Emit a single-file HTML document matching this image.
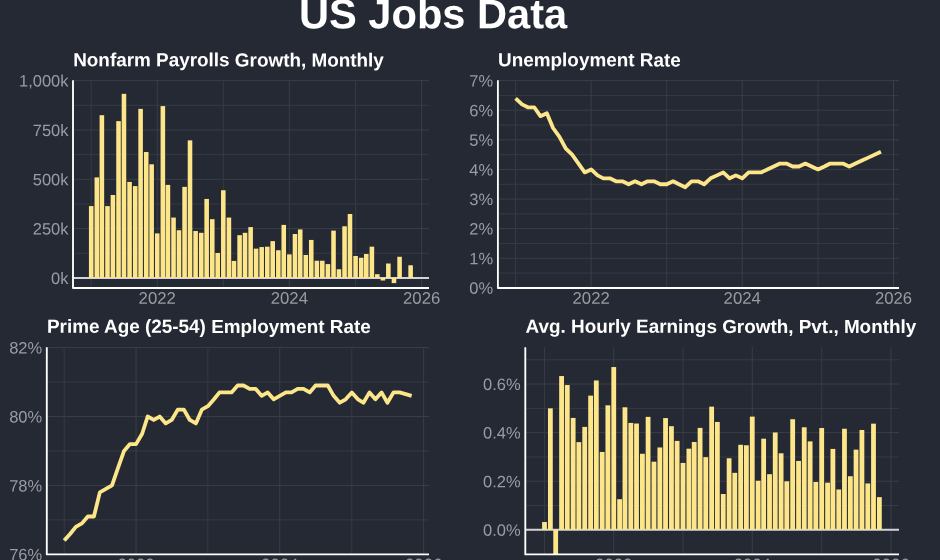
<!DOCTYPE html>
<html><head><meta charset="utf-8"><title>US Jobs Data</title>
<style>
html,body{margin:0;padding:0;background:#252933;overflow:hidden}
svg{display:block;will-change:transform}
text{font-family:"Liberation Sans",sans-serif;text-rendering:geometricPrecision}
.t{font-size:16.5px;fill:#999ca3}
.x{font-size:16.75px}
.h{font-size:18.9px;font-weight:bold;fill:#ffffff}
.m{font-size:41.6px;font-weight:bold;fill:#ffffff}
</style></head><body>
<svg width="940" height="560" viewBox="0 0 940 560">
<rect width="940" height="560" fill="#252933"/>
<text x="299" y="28.2" transform="rotate(0.03 299 28.2)" class="m">US Jobs Data</text>
<g id="p1">
<line x1="73.0" x2="429" y1="253.29" y2="253.29" stroke="#363a45" stroke-width="1"/>
<line x1="73.0" x2="429" y1="203.96" y2="203.96" stroke="#363a45" stroke-width="1"/>
<line x1="73.0" x2="429" y1="154.64" y2="154.64" stroke="#363a45" stroke-width="1"/>
<line x1="73.0" x2="429" y1="105.31" y2="105.31" stroke="#363a45" stroke-width="1"/>
<line x1="73.0" x2="429" y1="277.95" y2="277.95" stroke="#3a3e49" stroke-width="1"/>
<line x1="73.0" x2="429" y1="228.62" y2="228.62" stroke="#3a3e49" stroke-width="1"/>
<line x1="73.0" x2="429" y1="179.30" y2="179.30" stroke="#3a3e49" stroke-width="1"/>
<line x1="73.0" x2="429" y1="129.97" y2="129.97" stroke="#3a3e49" stroke-width="1"/>
<line x1="73.0" x2="429" y1="80.65" y2="80.65" stroke="#3a3e49" stroke-width="1"/>
<line x1="91.20" x2="91.20" y1="80.2" y2="287.95" stroke="#363a45" stroke-width="1"/>
<line x1="157.25" x2="157.25" y1="80.2" y2="287.95" stroke="#3a3e49" stroke-width="1"/>
<line x1="223.31" x2="223.31" y1="80.2" y2="287.95" stroke="#363a45" stroke-width="1"/>
<line x1="289.36" x2="289.36" y1="80.2" y2="287.95" stroke="#3a3e49" stroke-width="1"/>
<line x1="355.60" x2="355.60" y1="80.2" y2="287.95" stroke="#363a45" stroke-width="1"/>
<line x1="421.65" x2="421.65" y1="80.2" y2="287.95" stroke="#3a3e49" stroke-width="1"/>
<line x1="73.0" x2="429" y1="277.95" y2="277.95" stroke="#d2d4d8" stroke-width="2"/>
<rect x="88.92" y="206.08" width="4.56" height="71.87" fill="#fde58a"/>
<rect x="94.53" y="177.37" width="4.56" height="100.58" fill="#fde58a"/>
<rect x="99.60" y="115.20" width="4.56" height="162.75" fill="#fde58a"/>
<rect x="105.21" y="206.08" width="4.56" height="71.87" fill="#fde58a"/>
<rect x="110.64" y="194.99" width="4.56" height="82.96" fill="#fde58a"/>
<rect x="116.25" y="121.14" width="4.56" height="156.81" fill="#fde58a"/>
<rect x="121.68" y="93.82" width="4.56" height="184.13" fill="#fde58a"/>
<rect x="127.29" y="181.92" width="4.56" height="96.03" fill="#fde58a"/>
<rect x="132.90" y="186.08" width="4.56" height="91.87" fill="#fde58a"/>
<rect x="138.33" y="108.87" width="4.56" height="169.08" fill="#fde58a"/>
<rect x="143.94" y="152.03" width="4.56" height="125.92" fill="#fde58a"/>
<rect x="149.36" y="164.30" width="4.56" height="113.65" fill="#fde58a"/>
<rect x="154.97" y="233.40" width="4.56" height="44.55" fill="#fde58a"/>
<rect x="160.58" y="106.09" width="4.56" height="171.86" fill="#fde58a"/>
<rect x="165.65" y="184.89" width="4.56" height="93.06" fill="#fde58a"/>
<rect x="171.26" y="217.56" width="4.56" height="60.39" fill="#fde58a"/>
<rect x="176.69" y="230.23" width="4.56" height="47.72" fill="#fde58a"/>
<rect x="182.30" y="186.87" width="4.56" height="91.08" fill="#fde58a"/>
<rect x="187.73" y="140.35" width="4.56" height="137.60" fill="#fde58a"/>
<rect x="193.34" y="231.03" width="4.56" height="46.92" fill="#fde58a"/>
<rect x="198.95" y="232.81" width="4.56" height="45.14" fill="#fde58a"/>
<rect x="204.38" y="198.95" width="4.56" height="79.00" fill="#fde58a"/>
<rect x="209.99" y="219.15" width="4.56" height="58.80" fill="#fde58a"/>
<rect x="215.42" y="253.00" width="4.56" height="24.95" fill="#fde58a"/>
<rect x="221.03" y="190.24" width="4.56" height="87.71" fill="#fde58a"/>
<rect x="226.64" y="217.56" width="4.56" height="60.39" fill="#fde58a"/>
<rect x="231.71" y="260.92" width="4.56" height="17.03" fill="#fde58a"/>
<rect x="237.32" y="235.18" width="4.56" height="42.77" fill="#fde58a"/>
<rect x="242.75" y="232.81" width="4.56" height="45.14" fill="#fde58a"/>
<rect x="248.36" y="227.07" width="4.56" height="50.88" fill="#fde58a"/>
<rect x="253.79" y="248.65" width="4.56" height="29.30" fill="#fde58a"/>
<rect x="259.40" y="247.06" width="4.56" height="30.89" fill="#fde58a"/>
<rect x="265.01" y="246.67" width="4.56" height="31.28" fill="#fde58a"/>
<rect x="270.43" y="241.12" width="4.56" height="36.83" fill="#fde58a"/>
<rect x="276.04" y="250.23" width="4.56" height="27.72" fill="#fde58a"/>
<rect x="281.47" y="224.89" width="4.56" height="53.06" fill="#fde58a"/>
<rect x="287.08" y="254.39" width="4.56" height="23.56" fill="#fde58a"/>
<rect x="292.69" y="234.00" width="4.56" height="43.95" fill="#fde58a"/>
<rect x="297.94" y="229.44" width="4.56" height="48.51" fill="#fde58a"/>
<rect x="303.55" y="254.98" width="4.56" height="22.97" fill="#fde58a"/>
<rect x="308.98" y="239.94" width="4.56" height="38.01" fill="#fde58a"/>
<rect x="314.59" y="260.72" width="4.56" height="17.23" fill="#fde58a"/>
<rect x="320.02" y="260.72" width="4.56" height="17.23" fill="#fde58a"/>
<rect x="325.63" y="264.09" width="4.56" height="13.86" fill="#fde58a"/>
<rect x="331.24" y="230.63" width="4.56" height="47.32" fill="#fde58a"/>
<rect x="336.67" y="269.24" width="4.56" height="8.71" fill="#fde58a"/>
<rect x="342.28" y="226.27" width="4.56" height="51.68" fill="#fde58a"/>
<rect x="347.71" y="214.00" width="4.56" height="63.95" fill="#fde58a"/>
<rect x="353.32" y="255.97" width="4.56" height="21.98" fill="#fde58a"/>
<rect x="358.93" y="257.75" width="4.56" height="20.20" fill="#fde58a"/>
<rect x="364.00" y="253.99" width="4.56" height="23.96" fill="#fde58a"/>
<rect x="369.61" y="246.67" width="4.56" height="31.28" fill="#fde58a"/>
<rect x="375.04" y="274.19" width="4.56" height="3.76" fill="#fde58a"/>
<rect x="380.65" y="277.95" width="4.56" height="2.57" fill="#fde58a"/>
<rect x="386.08" y="263.50" width="4.56" height="14.45" fill="#fde58a"/>
<rect x="391.69" y="277.95" width="4.56" height="5.15" fill="#fde58a"/>
<rect x="397.30" y="256.77" width="4.56" height="21.18" fill="#fde58a"/>
<rect x="408.34" y="265.28" width="4.56" height="12.67" fill="#fde58a"/>
<path d="M73.0 80.2 V287.95 H429" fill="none" stroke="#ffffff" stroke-width="1.85" stroke-linejoin="round"/>
<text x="68.5" y="283.90" transform="rotate(0.03 68.5 283.90)" text-anchor="end" class="t">0k</text>
<text x="68.5" y="234.57" transform="rotate(0.03 68.5 234.57)" text-anchor="end" class="t">250k</text>
<text x="68.5" y="185.25" transform="rotate(0.03 68.5 185.25)" text-anchor="end" class="t">500k</text>
<text x="68.5" y="135.92" transform="rotate(0.03 68.5 135.92)" text-anchor="end" class="t">750k</text>
<text x="68.5" y="86.60" transform="rotate(0.03 68.5 86.60)" text-anchor="end" class="t">1,000k</text>
<text x="157.25" y="303.85" transform="rotate(0.03 157.25 303.85)" text-anchor="middle" class="t x">2022</text>
<text x="289.36" y="303.85" transform="rotate(0.03 289.36 303.85)" text-anchor="middle" class="t x">2024</text>
<text x="421.65" y="303.85" transform="rotate(0.03 421.65 303.85)" text-anchor="middle" class="t x">2026</text>
<text x="73.20" y="66.3" transform="rotate(0.03 73.20 66.3)" class="h">Nonfarm Payrolls Growth, Monthly</text>
</g>
<g id="p2">
<line x1="497.9" x2="899" y1="273.09" y2="273.09" stroke="#363a45" stroke-width="1"/>
<line x1="497.9" x2="899" y1="243.48" y2="243.48" stroke="#363a45" stroke-width="1"/>
<line x1="497.9" x2="899" y1="213.87" y2="213.87" stroke="#363a45" stroke-width="1"/>
<line x1="497.9" x2="899" y1="184.26" y2="184.26" stroke="#363a45" stroke-width="1"/>
<line x1="497.9" x2="899" y1="154.65" y2="154.65" stroke="#363a45" stroke-width="1"/>
<line x1="497.9" x2="899" y1="125.04" y2="125.04" stroke="#363a45" stroke-width="1"/>
<line x1="497.9" x2="899" y1="95.43" y2="95.43" stroke="#363a45" stroke-width="1"/>
<line x1="497.9" x2="899" y1="287.90" y2="287.90" stroke="#3a3e49" stroke-width="1"/>
<line x1="497.9" x2="899" y1="258.29" y2="258.29" stroke="#3a3e49" stroke-width="1"/>
<line x1="497.9" x2="899" y1="228.68" y2="228.68" stroke="#3a3e49" stroke-width="1"/>
<line x1="497.9" x2="899" y1="199.07" y2="199.07" stroke="#3a3e49" stroke-width="1"/>
<line x1="497.9" x2="899" y1="169.46" y2="169.46" stroke="#3a3e49" stroke-width="1"/>
<line x1="497.9" x2="899" y1="139.85" y2="139.85" stroke="#3a3e49" stroke-width="1"/>
<line x1="497.9" x2="899" y1="110.24" y2="110.24" stroke="#3a3e49" stroke-width="1"/>
<line x1="497.9" x2="899" y1="80.63" y2="80.63" stroke="#3a3e49" stroke-width="1"/>
<line x1="515.60" x2="515.60" y1="80.2" y2="287.95" stroke="#363a45" stroke-width="1"/>
<line x1="591.15" x2="591.15" y1="80.2" y2="287.95" stroke="#3a3e49" stroke-width="1"/>
<line x1="666.70" x2="666.70" y1="80.2" y2="287.95" stroke="#363a45" stroke-width="1"/>
<line x1="742.24" x2="742.24" y1="80.2" y2="287.95" stroke="#3a3e49" stroke-width="1"/>
<line x1="818.00" x2="818.00" y1="80.2" y2="287.95" stroke="#363a45" stroke-width="1"/>
<line x1="893.55" x2="893.55" y1="80.2" y2="287.95" stroke="#3a3e49" stroke-width="1"/>
<polyline points="515.60,98.40 522.02,104.32 527.81,107.28 534.23,107.28 540.44,116.16 546.85,113.20 553.06,128.01 559.48,136.89 565.90,148.73 572.11,154.65 578.52,163.54 584.73,172.42 591.15,169.46 597.56,175.38 603.36,178.34 609.78,178.34 615.99,181.30 622.40,181.30 628.61,184.26 635.03,181.30 641.44,184.26 647.65,181.30 654.07,181.30 660.28,184.26 666.70,184.26 673.11,181.30 678.91,184.26 685.32,187.23 691.53,181.30 697.95,181.30 704.16,184.26 710.58,178.34 716.99,175.38 723.20,172.42 729.62,178.34 735.83,175.38 742.24,178.34 748.66,172.42 754.66,172.42 761.08,172.42 767.29,169.46 773.71,166.50 779.92,163.54 786.33,163.54 792.75,166.50 798.96,166.50 805.37,163.54 811.58,166.50 818.00,169.46 824.42,166.50 830.21,163.54 836.63,163.54 842.84,163.54 849.25,166.50 855.46,163.54 861.88,160.58 868.30,157.62 880.92,151.69" fill="none" stroke="#fde58a" stroke-width="3.8" stroke-linejoin="round" stroke-linecap="butt"/>
<path d="M497.9 80.2 V287.95 H899" fill="none" stroke="#ffffff" stroke-width="1.85" stroke-linejoin="round"/>
<text x="493.2" y="293.85" transform="rotate(0.03 493.2 293.85)" text-anchor="end" class="t">0%</text>
<text x="493.2" y="264.24" transform="rotate(0.03 493.2 264.24)" text-anchor="end" class="t">1%</text>
<text x="493.2" y="234.63" transform="rotate(0.03 493.2 234.63)" text-anchor="end" class="t">2%</text>
<text x="493.2" y="205.02" transform="rotate(0.03 493.2 205.02)" text-anchor="end" class="t">3%</text>
<text x="493.2" y="175.41" transform="rotate(0.03 493.2 175.41)" text-anchor="end" class="t">4%</text>
<text x="493.2" y="145.80" transform="rotate(0.03 493.2 145.80)" text-anchor="end" class="t">5%</text>
<text x="493.2" y="116.19" transform="rotate(0.03 493.2 116.19)" text-anchor="end" class="t">6%</text>
<text x="493.2" y="86.58" transform="rotate(0.03 493.2 86.58)" text-anchor="end" class="t">7%</text>
<text x="591.15" y="303.85" transform="rotate(0.03 591.15 303.85)" text-anchor="middle" class="t x">2022</text>
<text x="742.24" y="303.85" transform="rotate(0.03 742.24 303.85)" text-anchor="middle" class="t x">2024</text>
<text x="893.55" y="303.85" transform="rotate(0.03 893.55 303.85)" text-anchor="middle" class="t x">2026</text>
<text x="498.10" y="66.3" transform="rotate(0.03 498.10 66.3)" class="h">Unemployment Rate</text>
</g>
<g id="p3">
<line x1="46.8" x2="429" y1="519.93" y2="519.93" stroke="#363a45" stroke-width="1"/>
<line x1="46.8" x2="429" y1="450.99" y2="450.99" stroke="#363a45" stroke-width="1"/>
<line x1="46.8" x2="429" y1="382.05" y2="382.05" stroke="#363a45" stroke-width="1"/>
<line x1="46.8" x2="429" y1="554.40" y2="554.40" stroke="#3a3e49" stroke-width="1"/>
<line x1="46.8" x2="429" y1="485.46" y2="485.46" stroke="#3a3e49" stroke-width="1"/>
<line x1="46.8" x2="429" y1="416.52" y2="416.52" stroke="#3a3e49" stroke-width="1"/>
<line x1="46.8" x2="429" y1="347.58" y2="347.58" stroke="#3a3e49" stroke-width="1"/>
<line x1="64.20" x2="64.20" y1="347.2" y2="554.4" stroke="#363a45" stroke-width="1"/>
<line x1="136.05" x2="136.05" y1="347.2" y2="554.4" stroke="#3a3e49" stroke-width="1"/>
<line x1="207.90" x2="207.90" y1="347.2" y2="554.4" stroke="#363a45" stroke-width="1"/>
<line x1="279.75" x2="279.75" y1="347.2" y2="554.4" stroke="#3a3e49" stroke-width="1"/>
<line x1="351.80" x2="351.80" y1="347.2" y2="554.4" stroke="#363a45" stroke-width="1"/>
<line x1="423.65" x2="423.65" y1="347.2" y2="554.4" stroke="#3a3e49" stroke-width="1"/>
<polyline points="64.20,540.61 70.30,533.72 75.81,526.82 81.92,523.38 87.82,516.48 93.92,516.48 99.83,492.35 105.93,488.91 112.03,485.46 117.94,468.22 124.04,450.99 129.95,444.10 136.05,444.10 142.15,433.75 147.67,416.52 153.77,419.97 159.67,416.52 165.78,423.41 171.68,419.97 177.78,409.63 183.89,409.63 189.79,419.97 195.89,423.41 201.80,409.63 207.90,406.18 214.00,399.28 219.52,392.39 225.62,392.39 231.52,392.39 237.63,385.50 243.53,385.50 249.63,388.94 255.74,388.94 261.64,395.84 267.74,392.39 273.65,399.28 279.75,395.84 285.85,392.39 291.56,392.39 297.67,388.94 303.57,388.94 309.67,392.39 315.58,385.50 321.68,385.50 327.78,385.50 333.69,395.84 339.79,402.73 345.70,399.28 351.80,392.39 357.90,399.28 363.41,402.73 369.52,392.39 375.42,399.28 381.52,392.39 387.43,402.73 393.53,392.39 399.63,392.39 411.64,395.84" fill="none" stroke="#fde58a" stroke-width="3.8" stroke-linejoin="round" stroke-linecap="butt"/>
<path d="M46.8 347.2 V554.4 H429" fill="none" stroke="#ffffff" stroke-width="1.85" stroke-linejoin="round"/>
<text x="42.2" y="560.35" transform="rotate(0.03 42.2 560.35)" text-anchor="end" class="t">76%</text>
<text x="42.2" y="491.41" transform="rotate(0.03 42.2 491.41)" text-anchor="end" class="t">78%</text>
<text x="42.2" y="422.47" transform="rotate(0.03 42.2 422.47)" text-anchor="end" class="t">80%</text>
<text x="42.2" y="353.53" transform="rotate(0.03 42.2 353.53)" text-anchor="end" class="t">82%</text>
<text x="136.05" y="570.25" transform="rotate(0.03 136.05 570.25)" text-anchor="middle" class="t x">2022</text>
<text x="279.75" y="570.25" transform="rotate(0.03 279.75 570.25)" text-anchor="middle" class="t x">2024</text>
<text x="423.65" y="570.25" transform="rotate(0.03 423.65 570.25)" text-anchor="middle" class="t x">2026</text>
<text x="47.00" y="332.8" transform="rotate(0.03 47.00 332.8)" class="h">Prime Age (25-54) Employment Rate</text>
</g>
<g id="p4">
<line x1="525.3" x2="899" y1="505.51" y2="505.51" stroke="#363a45" stroke-width="1"/>
<line x1="525.3" x2="899" y1="456.93" y2="456.93" stroke="#363a45" stroke-width="1"/>
<line x1="525.3" x2="899" y1="408.35" y2="408.35" stroke="#363a45" stroke-width="1"/>
<line x1="525.3" x2="899" y1="359.77" y2="359.77" stroke="#363a45" stroke-width="1"/>
<line x1="525.3" x2="899" y1="529.80" y2="529.80" stroke="#3a3e49" stroke-width="1"/>
<line x1="525.3" x2="899" y1="481.22" y2="481.22" stroke="#3a3e49" stroke-width="1"/>
<line x1="525.3" x2="899" y1="432.64" y2="432.64" stroke="#3a3e49" stroke-width="1"/>
<line x1="525.3" x2="899" y1="384.06" y2="384.06" stroke="#3a3e49" stroke-width="1"/>
<line x1="544.50" x2="544.50" y1="347.2" y2="554.4" stroke="#363a45" stroke-width="1"/>
<line x1="613.75" x2="613.75" y1="347.2" y2="554.4" stroke="#3a3e49" stroke-width="1"/>
<line x1="683.01" x2="683.01" y1="347.2" y2="554.4" stroke="#363a45" stroke-width="1"/>
<line x1="752.26" x2="752.26" y1="347.2" y2="554.4" stroke="#3a3e49" stroke-width="1"/>
<line x1="821.70" x2="821.70" y1="347.2" y2="554.4" stroke="#363a45" stroke-width="1"/>
<line x1="890.95" x2="890.95" y1="347.2" y2="554.4" stroke="#3a3e49" stroke-width="1"/>
<line x1="525.3" x2="899" y1="529.8" y2="529.8" stroke="#d2d4d8" stroke-width="2"/>
<rect x="542.10" y="522.03" width="4.80" height="7.77" fill="#fde58a"/>
<rect x="547.98" y="408.35" width="4.80" height="121.45" fill="#fde58a"/>
<rect x="553.29" y="529.80" width="4.80" height="24.60" fill="#fde58a"/>
<rect x="559.18" y="376.04" width="4.80" height="153.76" fill="#fde58a"/>
<rect x="564.87" y="385.03" width="4.80" height="144.77" fill="#fde58a"/>
<rect x="570.75" y="417.94" width="4.80" height="111.86" fill="#fde58a"/>
<rect x="576.44" y="442.11" width="4.80" height="87.69" fill="#fde58a"/>
<rect x="582.32" y="426.91" width="4.80" height="102.89" fill="#fde58a"/>
<rect x="588.21" y="395.62" width="4.80" height="134.18" fill="#fde58a"/>
<rect x="593.90" y="380.47" width="4.80" height="149.33" fill="#fde58a"/>
<rect x="599.78" y="451.95" width="4.80" height="77.85" fill="#fde58a"/>
<rect x="605.47" y="405.31" width="4.80" height="124.49" fill="#fde58a"/>
<rect x="611.35" y="367.06" width="4.80" height="162.74" fill="#fde58a"/>
<rect x="617.23" y="499.19" width="4.80" height="30.61" fill="#fde58a"/>
<rect x="622.55" y="407.28" width="4.80" height="122.52" fill="#fde58a"/>
<rect x="628.43" y="422.92" width="4.80" height="106.88" fill="#fde58a"/>
<rect x="634.12" y="423.51" width="4.80" height="106.29" fill="#fde58a"/>
<rect x="640.00" y="453.77" width="4.80" height="76.03" fill="#fde58a"/>
<rect x="645.69" y="416.85" width="4.80" height="112.95" fill="#fde58a"/>
<rect x="651.58" y="461.69" width="4.80" height="68.11" fill="#fde58a"/>
<rect x="657.46" y="447.46" width="4.80" height="82.34" fill="#fde58a"/>
<rect x="663.15" y="418.07" width="4.80" height="111.73" fill="#fde58a"/>
<rect x="669.03" y="426.18" width="4.80" height="103.62" fill="#fde58a"/>
<rect x="674.72" y="440.90" width="4.80" height="88.90" fill="#fde58a"/>
<rect x="680.61" y="462.93" width="4.80" height="66.87" fill="#fde58a"/>
<rect x="686.49" y="448.67" width="4.80" height="81.13" fill="#fde58a"/>
<rect x="691.80" y="441.99" width="4.80" height="87.81" fill="#fde58a"/>
<rect x="697.68" y="427.90" width="4.80" height="101.90" fill="#fde58a"/>
<rect x="703.37" y="457.17" width="4.80" height="72.63" fill="#fde58a"/>
<rect x="709.25" y="406.65" width="4.80" height="123.15" fill="#fde58a"/>
<rect x="714.95" y="421.95" width="4.80" height="107.85" fill="#fde58a"/>
<rect x="720.83" y="494.00" width="4.80" height="35.80" fill="#fde58a"/>
<rect x="726.71" y="458.27" width="4.80" height="71.53" fill="#fde58a"/>
<rect x="732.40" y="472.84" width="4.80" height="56.96" fill="#fde58a"/>
<rect x="738.28" y="444.78" width="4.80" height="85.01" fill="#fde58a"/>
<rect x="743.98" y="445.27" width="4.80" height="84.53" fill="#fde58a"/>
<rect x="749.86" y="416.61" width="4.80" height="113.19" fill="#fde58a"/>
<rect x="755.74" y="480.73" width="4.80" height="49.07" fill="#fde58a"/>
<rect x="761.24" y="438.71" width="4.80" height="91.09" fill="#fde58a"/>
<rect x="767.12" y="474.18" width="4.80" height="55.62" fill="#fde58a"/>
<rect x="772.82" y="432.47" width="4.80" height="97.33" fill="#fde58a"/>
<rect x="778.70" y="453.29" width="4.80" height="76.51" fill="#fde58a"/>
<rect x="784.39" y="481.29" width="4.80" height="48.51" fill="#fde58a"/>
<rect x="790.27" y="419.21" width="4.80" height="110.59" fill="#fde58a"/>
<rect x="796.15" y="460.94" width="4.80" height="68.86" fill="#fde58a"/>
<rect x="801.84" y="427.30" width="4.80" height="102.50" fill="#fde58a"/>
<rect x="807.73" y="441.38" width="4.80" height="88.42" fill="#fde58a"/>
<rect x="813.42" y="482.00" width="4.80" height="47.80" fill="#fde58a"/>
<rect x="819.30" y="428.02" width="4.80" height="101.78" fill="#fde58a"/>
<rect x="825.18" y="482.68" width="4.80" height="47.12" fill="#fde58a"/>
<rect x="830.49" y="448.91" width="4.80" height="80.89" fill="#fde58a"/>
<rect x="836.38" y="489.48" width="4.80" height="40.32" fill="#fde58a"/>
<rect x="842.07" y="428.75" width="4.80" height="101.05" fill="#fde58a"/>
<rect x="847.95" y="476.24" width="4.80" height="53.56" fill="#fde58a"/>
<rect x="853.64" y="449.64" width="4.80" height="80.16" fill="#fde58a"/>
<rect x="859.52" y="429.97" width="4.80" height="99.83" fill="#fde58a"/>
<rect x="865.41" y="483.41" width="4.80" height="46.39" fill="#fde58a"/>
<rect x="871.10" y="423.65" width="4.80" height="106.15" fill="#fde58a"/>
<rect x="876.98" y="497.15" width="4.80" height="32.65" fill="#fde58a"/>
<path d="M525.3 347.2 V554.4 H899" fill="none" stroke="#ffffff" stroke-width="1.85" stroke-linejoin="round"/>
<text x="520.7" y="535.75" transform="rotate(0.03 520.7 535.75)" text-anchor="end" class="t">0.0%</text>
<text x="520.7" y="487.17" transform="rotate(0.03 520.7 487.17)" text-anchor="end" class="t">0.2%</text>
<text x="520.7" y="438.59" transform="rotate(0.03 520.7 438.59)" text-anchor="end" class="t">0.4%</text>
<text x="520.7" y="390.01" transform="rotate(0.03 520.7 390.01)" text-anchor="end" class="t">0.6%</text>
<text x="613.75" y="570.25" transform="rotate(0.03 613.75 570.25)" text-anchor="middle" class="t x">2022</text>
<text x="752.26" y="570.25" transform="rotate(0.03 752.26 570.25)" text-anchor="middle" class="t x">2024</text>
<text x="890.95" y="570.25" transform="rotate(0.03 890.95 570.25)" text-anchor="middle" class="t x">2026</text>
<text x="525.50" y="332.8" transform="rotate(0.03 525.50 332.8)" class="h">Avg. Hourly Earnings Growth, Pvt., Monthly</text>
</g>
</svg></body></html>
